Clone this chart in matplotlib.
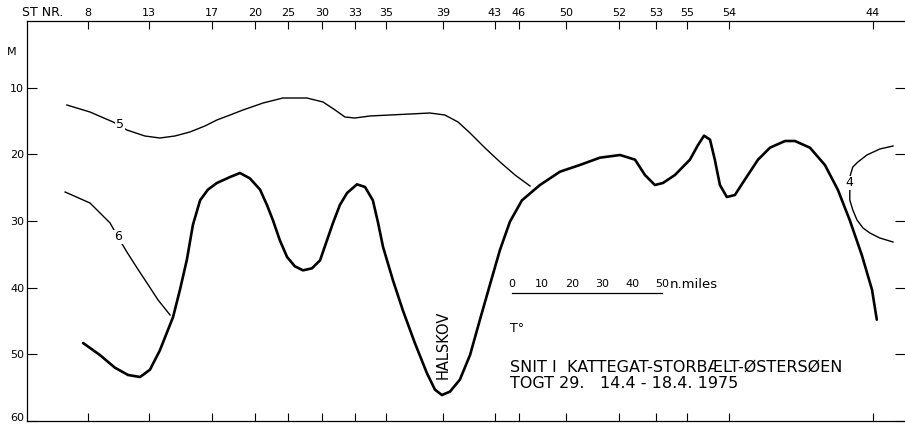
import matplotlib
matplotlib.use("Agg")
import matplotlib.pyplot as plt
import matplotlib.transforms as mtransforms

# Stations (x in nautical miles along the section)
station_labels = ["8", "13", "17", "20", "25", "30", "33", "35", "39", "43", "46",
                  "50", "52", "53", "55", "54", "44"]
station_x = [20.3, 40.7, 61.7, 76.0, 87.0, 98.3, 109.3, 119.7, 138.7, 156.0, 164.0,
             179.7, 197.3, 209.7, 220.0, 234.0, 282.0]

depth_ticks = [10, 20, 30, 40, 50, 60]

# Bottom profile (thick line)
bottom_x = [18.7, 24.3, 29.3, 33.7, 37.7, 41.0, 44.3, 48.7, 51.0, 53.3, 55.3, 57.7,
            60.3, 63.3, 67.7, 71.0, 74.3, 77.7, 80.0, 82.0, 84.3, 86.7, 89.3, 92.0,
            95.0, 97.7, 100.0, 102.0, 104.3, 106.7, 110.0, 112.7, 115.3, 117.0,
            118.7, 122.0, 125.3, 129.3, 133.3, 136.0, 138.3, 141.0, 144.3, 147.7,
            151.0, 154.3, 157.7, 161.0, 165.0, 171.0, 177.7, 184.3, 191.0, 197.7,
            202.7, 206.0, 209.3, 212.0, 216.0, 221.0, 223.7, 225.7, 227.7, 229.3,
            231.0, 233.3, 236.0, 239.3, 243.7, 247.7, 252.7, 256.0, 261.0, 266.0,
            270.3, 274.3, 278.3, 281.7, 283.3]
bottom_d = [48.3, 50.1, 52.0, 53.1, 53.4, 52.3, 49.4, 44.4, 40.3, 35.8, 30.6, 26.9,
            25.3, 24.3, 23.4, 22.8, 23.6, 25.3, 27.6, 29.9, 32.9, 35.4, 36.8, 37.4,
            37.1, 35.9, 32.9, 30.3, 27.6, 25.8, 24.5, 24.9, 26.9, 30.2,
            33.9, 38.9, 43.4, 48.3, 52.8, 55.3, 56.1, 55.6, 53.8, 50.1,
            44.8, 39.6, 34.3, 30.1, 26.9, 24.6, 22.6, 21.6, 20.5, 20.1,
            20.8, 23.1, 24.6, 24.3, 23.1, 20.8, 18.6, 17.2, 17.8, 20.8,
            24.6, 26.4, 26.1, 23.8, 20.8, 19.0, 18.0, 18.0, 19.0, 21.6,
            25.3, 29.9, 35.1, 40.3, 44.8]

# Isotherms (temperature contours, degrees C)
iso5_x = [13.3, 21.0, 28.7, 33.3, 39.3, 44.3, 49.3, 54.3, 59.3, 63.3, 67.7, 72.0,
          78.7, 85.3, 93.3, 98.7, 102.7, 106.0, 109.3, 114.3, 121.0, 127.7, 134.3,
          139.3, 143.7, 147.7, 152.7, 157.7, 162.7, 167.7]
iso5_d = [12.6, 13.65, 15.15, 16.35, 17.25, 17.55, 17.25, 16.65, 15.75, 14.85, 14.1,
          13.35, 12.3, 11.55, 11.55, 12.15, 13.35, 14.4, 14.55, 14.25, 14.1, 13.95,
          13.8, 14.1, 15.15, 16.8, 19.05, 21.15, 23.1, 24.75]

iso6_x = [12.7, 21.0, 27.7, 30.3, 33.3, 36.7, 40.0, 43.7, 47.7]
iso6_d = [25.65, 27.3, 30.3, 32.4, 34.65, 37.05, 39.3, 41.85, 44.1]

iso4_x = [288.7, 284.3, 280.0, 277.0, 275.3, 274.3, 274.3, 274.3, 275.3, 276.7,
          278.7, 281.0, 284.3, 288.7]
iso4_d = [18.75, 19.2, 20.1, 21.15, 21.9, 23.4, 25.35, 26.85, 28.35, 29.85,
          31.05, 31.8, 32.55, 33.15]

contour_labels = [("5", 31.0, 15.6), ("6", 30.3, 32.4), ("4", 274.3, 24.3)]

scale_ticks = [0, 10, 20, 30, 40, 50]
scale_x0 = 161.7
scale_d = 40.8

plt.rcParams["font.family"] = ["DejaVu Sans"]
fig = plt.figure(figsize=(9.05, 4.25), dpi=100)
ax = fig.add_axes([27 / 905, 4 / 425, 1 - 27 / 905, 400 / 425])
ax.set_xlim(0, 292.7)
ax.set_ylim(60, 0)

ax.plot(bottom_x, bottom_d, color="black", lw=1.9, solid_capstyle="round")
for xs, ds in [(iso5_x, iso5_d), (iso6_x, iso6_d), (iso4_x, iso4_d)]:
    ax.plot(xs, ds, color="black", lw=1.0)
for t, x, d in contour_labels:
    ax.text(x, d, t, ha="center", va="center", fontsize=9,
            bbox=dict(facecolor="white", edgecolor="none", pad=0.5))

# axes / ticks
ax.set_xticks(station_x)
ax.set_xticklabels(station_labels)
ax.tick_params(axis="x", top=True, bottom=True, labeltop=True, labelbottom=False,
               direction="in", length=6, width=0.8, labelsize=8, pad=2)
ax.set_yticks(depth_ticks)
ax.set_yticklabels([str(v) for v in depth_ticks])
ax.tick_params(axis="y", left=True, right=True, direction="in", length=7,
               width=0.8, labelsize=8, pad=2)
ax.spines["right"].set_visible(False)
for s in ["left", "top", "bottom"]:
    ax.spines[s].set_linewidth(0.9)

# keep the "60" label inside the picture
lab60 = ax.get_yticklabels()[-1]
lab60.set_transform(lab60.get_transform() +
                    mtransforms.ScaledTranslation(0, 3 / 72, fig.dpi_scale_trans))

fig.text(22 / 905, 1 - 13 / 425, "ST NR.", fontsize=9, ha="left", va="center")
fig.text(12 / 905, 1 - 52 / 425, "M", fontsize=8, ha="center", va="center")

# scale bar
ax.plot([scale_x0, scale_x0 + 50], [scale_d, scale_d], color="black", lw=0.9)
for v in scale_ticks:
    ax.text(scale_x0 + v, scale_d - 1.3, str(v), fontsize=8, ha="center", va="center")
ax.text(scale_x0 + 52.6, scale_d - 1.3, "n.miles", fontsize=9.5, ha="left", va="center")

ax.text(161.0, 46.05, "T°", fontsize=9, ha="left", va="center")
ax.text(161.0, 51.9, "SNIT I  KATTEGAT-STORBÆLT-ØSTERSØEN", fontsize=11.5,
        ha="left", va="center")
ax.text(161.0, 54.3, "TOGT 29.", fontsize=11.5, ha="left", va="center")
ax.text(191.0, 54.3, "14.4 - 18.4. 1975", fontsize=11.5, ha="left", va="center")
ax.text(138.7, 48.6, "HALSKOV", fontsize=10.5, rotation=90, ha="center", va="center")

fig.savefig("out.png", dpi=100)
